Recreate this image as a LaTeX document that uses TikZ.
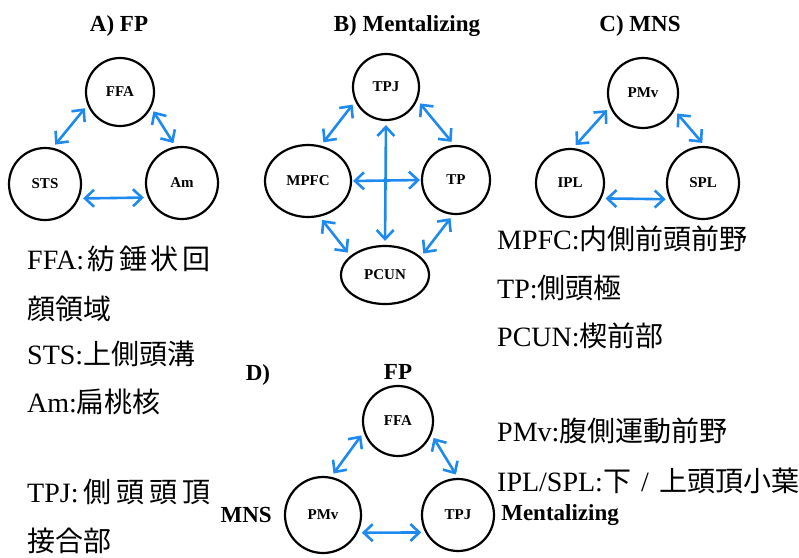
\documentclass[tikz,border=0pt]{standalone}
\usepackage{fontspec}
\setmainfont{Liberation Serif}
\newfontfamily\jp{Noto Sans CJK JP}
\usetikzlibrary{arrows.meta,positioning,shapes.geometric}
\definecolor{linkblue}{HTML}{1E8AF0}
\newcommand\hd{\bfseries\fontsize{23}{23}\selectfont}
\newcommand\nt{\fontsize{28}{28}\selectfont}

\begin{document}
\begin{tikzpicture}[x=1pt,y=-1pt,
  region/.style={circle,draw,line width=2.2pt,inner sep=0pt,minimum size=70pt,
    font=\bfseries\fontsize{15}{15}\selectfont},
  oval/.style={region,ellipse},
  barb/.tip={Straight Barb[length=9pt,width=17pt]},
  link/.style={barb-barb,draw=linkblue,line width=2.6pt,shorten <=4pt,shorten >=4pt},
  title/.style={font=\hd,inner sep=0pt},
  note/.style={anchor=base west,inner sep=0pt,font=\nt}]
  \useasboundingbox (0,0) rectangle (799,557);

  % A) FP
  \node[title] (tA) at (119,26) {A) FP};
  \node[region,minimum size=68pt] (aFFA) at (120,92) {FFA};
  \node[region,minimum size=72pt] (aSTS) at (45,184) {STS};
  \node[region,minimum size=72pt] (aAm) at (182,183) {Am};
  \draw[link] (aFFA.202) -- (aSTS.78);
  \draw[link] (aFFA.333) -- (aAm.100);
  \draw[link] (aSTS.337) -- (aAm.203);

  % B) Mentalizing
  \node[title] (tB) at (407,26) {B) Mentalizing};
  \node[region,minimum size=66pt] (bTPJ) at (386,87) {TPJ};
  \node[oval,minimum width=86pt,minimum height=72pt] (bMPFC) at (308,181) {MPFC};
  \node[region,minimum size=68pt] (bTP) at (456,180) {TP};
  \node[oval,minimum width=88pt,minimum height=58pt] (bPCUN) at (385,275) {PCUN};
  \draw[link] (bTPJ.205) -- (bMPFC.70);
  \draw[link] (bTPJ.337) -- (bTP.93);
  \draw[link,shorten <=1pt,shorten >=1pt] (bMPFC.east) -- (bTP.west);
  \draw[link] (bTPJ.south) -- (bPCUN.north);
  \draw[link] (bMPFC.288) -- (bPCUN.151);
  \draw[link] (bTP.265) -- (bPCUN.27);

  % C) MNS
  \node[title] (tC) at (640,26) {C) MNS};
  \node[region,minimum size=70pt] (cPMv) at (643,93) {PMv};
  \node[region,minimum size=68pt] (cIPL) at (570,183) {IPL};
  \node[region,minimum size=72pt] (cSPL) at (703,183) {SPL};
  \draw[link] (cPMv.203) -- (cIPL.85);
  \draw[link] (cPMv.331) -- (cSPL.87);
  \draw[link] (cIPL.334) -- (cSPL.206);

  % D) the three networks together
  \node[title] (tD) at (258,375) {D)};
  \node[region,minimum size=70pt] (dFFA) at (398,421) {FFA};
  \node[region,minimum size=76pt] (dPMv) at (323,515) {PMv};
  \node[region,minimum size=72pt] (dTPJ) at (458,515) {TPJ};
  \node[title,above=5pt of dFFA] (dFP) {FP};
  \node[title,left=12pt of dPMv] (dMNS) {MNS};
  \node[title,right=6pt of dTPJ] (dMent) {Mentalizing};
  \draw[link] (dFFA.198) -- (dPMv.78);
  \draw[link] (dFFA.338) -- (dTPJ.90);
  \draw[link] (dPMv.333) -- (dTPJ.208);

  % abbreviations
  \node[note] (nFFA) at (27,269) {\makebox[183pt][s]{FFA:\hfil\jp 紡\hfil 錘\hfil 状\hfil 回}};
  \node[note] (nFFA2) at (27,319) {\jp 顔領域};
  \node[note] (nSTS) at (27,364) {STS:{\jp 上側頭溝}};
  \node[note] (nAm) at (27,412) {Am:{\jp 扁桃核}};
  \node[note] (nTPJ) at (27,502) {\makebox[183pt][s]{TPJ:\hfil\jp 側\hfil 頭\hfil 頭\hfil 頂}};
  \node[note] (nTPJ2) at (27,551) {\jp 接合部};

  \node[note] (nMPFC) at (497,249) {MPFC:{\jp 内側前頭前野}};
  \node[note] (nTP) at (497,298) {TP:{\jp 側頭極}};
  \node[note] (nPCUN) at (497,346) {PCUN:{\jp 楔前部}};
  \node[note] (nPMv) at (497,441) {PMv:{\jp 腹側運動前野}};
  \node[note] (nPL) at (497,491) {IPL/SPL:{\jp 下}\makebox[28pt]{/}{\jp 上頭頂小葉}};
\end{tikzpicture}
\end{document}
